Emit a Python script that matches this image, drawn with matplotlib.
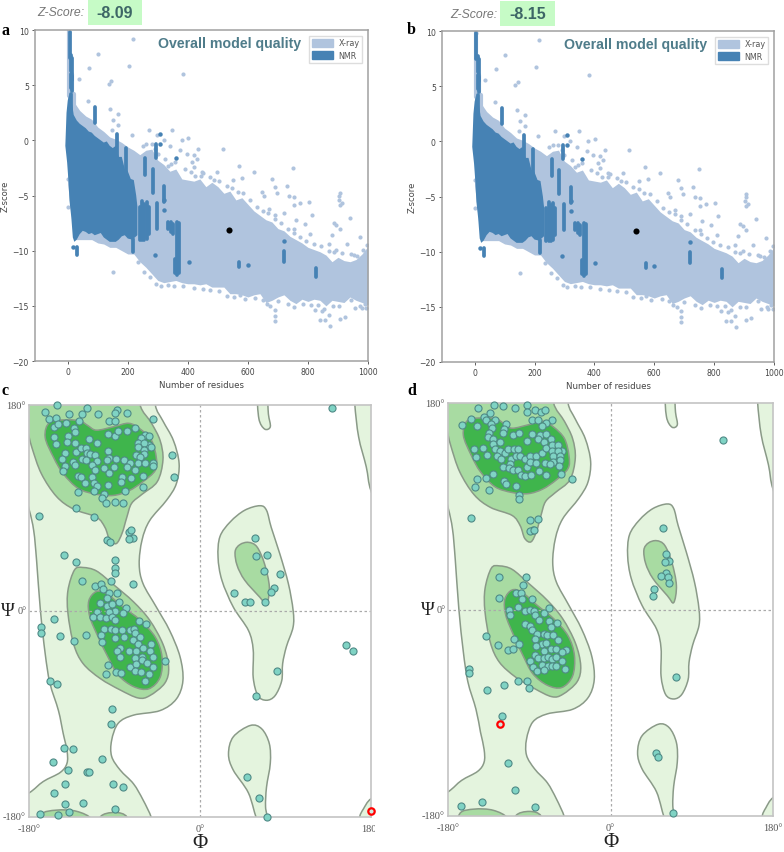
import numpy as np
import matplotlib
matplotlib.use("Agg")
import matplotlib.pyplot as plt
from matplotlib.patches import Patch, PathPatch, Rectangle
from matplotlib.path import Path
from matplotlib.transforms import Bbox

W, H = 784, 853

# z-score plots: cloud outlines
xray_x = [0, 20, 40, 60, 80, 100, 120, 140, 160, 180, 200, 220, 240, 260, 280, 300, 320, 340, 360, 380, 400, 420, 440, 460, 480, 500,
          520, 540, 560, 580, 600, 620, 640, 660, 680, 700, 720, 740, 760, 780, 800, 820, 840, 860, 880, 900, 920, 940, 960, 980, 1000]
xray_top = [4, 3.5, 2.7, 2.2, 1.9, 1.2, 0.8, 0.3, 0.1, -0.2, -0.6, -0.9, -1.3, -0.9, -0.8, -1.8, -2.2, -2.8, -2.6, -3.5, -3.6, -3.7, -3.5, -4.2, -3.8, -4.2,
            -4.8, -4.6, -5.4, -5.2, -5.8, -6.4, -6.8, -7.2, -7.4, -8, -8.2, -8.7, -9, -9.3, -9.7, -9.9, -10.1, -10.4, -11, -10.6, -10.9, -11, -10.8, -10.3, -9.6]
xray_bot = [-4, -9, -9, -9, -9, -9.3, -9.4, -9.7, -9.7, -10, -10.3, -10.3, -11, -11.5, -12.1, -12.7, -12.9, -12.8, -12.7, -12.9, -13, -13, -13.1, -13, -13.3, -13.3,
            -13.3, -13.9, -13.9, -14, -14.2, -14, -13.9, -14.7, -14.5, -14.2, -14, -14.5, -14.8, -14.4, -14.6, -14.4, -14.5, -15, -14.5, -14.6, -14.7, -14.2, -14.5, -14.7, -14.9]

xray_scatter_x = [3, 216, 102, 205, 70, 383, 36, 144, 136, 67, 141, 167, 152, 169, 147, 213, 269, 347, 297, 402, 380, 319, 341, 517, 435, 374, 397, 419, 430, 413, 419,
                  497, 570, 749, 619, 580, 550, 680, 729, 691, 697, 652, 647, 736, 752, 752, 802, 774, 813, 908, 902, 908, 941, 886, 908, 974, 930, 886, 952, 997, 808, 752, 691,
                  152, 2, 2, 691, 691, 691, 874, 908, 924, 841, 858, 824, 847, 869, 663, 958, 980, 991, 574, 905, 912, 895, 880, 870, 760, 790, 720, 670,
                  # bumps along the top of the cloud
                  250, 262, 280, 292, 300, 325, 335, 345, 358, 390, 410, 425, 445, 447, 452, 475, 488, 505, 530, 548, 566, 585, 608, 630, 650, 668, 690, 710, 735, 755,
                  775, 795, 820, 845, 870, 895, 915, 945, 965, 985,
                  # bumps along the bottom of the cloud
                  235, 255, 275, 295, 310, 335, 355, 385, 420, 450, 475, 505, 530, 555, 590, 625, 650, 675, 700, 735, 755, 785, 810, 835, 855, 885, 905, 945, 975, 995]
xray_scatter_z = [9.8, 9.15, 7.8, 6.7, 6.55, 6.0, 5.6, 5.4, 5.1, 3.6, 2.8, 2.4, 1.8, 1.4, 0.9, 0.45, 0.9, 0.9, 0.45, 0.2, 0, 0, -0.5, -0.8, -0.75, -0.9, -1.2, -1.35, -1.66, -2, -2.4,
                  -2.9, -2.3, -2.5, -2.9, -3.4, -3.6, -3.5, -4.1, -4.2, -4.8, -5, -4.7, -5, -5.1, -5.9, -5.6, -5.7, -6.8, -4.8, -5.4, -5.9, -7, -7.5, -8, -8.8, -9.4, -10.1, -10.4, -9.5, -8.5, -8, -6.8,
                  -11.9, -6, -3.5, -15.4, -15.9, -16.4, -16.8, -16.2, -16, -16.3, -16.3, -15.4, -15.5, -15.8, -14.8, -15.2, -15.2, -14.8, -14, -5, -5.7, -7.7, -8.6, -9.4, -7.2, -7.6, -6.6, -6.2,
                  -0.5, -0.3, -0.3, -0.8, -1.2, -1.7, -2.3, -2.1, -2, -2.6, -2.9, -3.2, -3.2, -2.9, -3, -3.3, -3.6, -3.7, -4.1, -4.3, -4.7, -4.8, -5.4, -6, -6.4, -6.6, -7.1, -7.5, -8, -8.4,
                  -8.8, -9.1, -9.4, -9.6, -10, -9.9, -10.2, -10.3, -10.5, -9.9,
                  -11, -11.9, -12.4, -13, -13.2, -13.1, -13.2, -13.2, -13.4, -13.5, -13.6, -13.7, -14.1, -14.2, -14.4, -14.3, -14.5, -15, -14.6, -14.8, -15.1, -14.8, -14.9, -14.9, -15.3, -15, -15, -14.5, -15, -15.2]

# light halo behind the spine near zero residues
halo_x = [3, 15, 20]
halo_low = [4, 3.5, 3]
halo_high = [10, 6, 4.2]

nmr_x = [-8, -6, -4, 0, 5, 15, 20, 30, 40, 50, 60, 70, 80, 90, 100, 110, 120, 130, 140, 150, 160, 170, 180, 190, 200, 210, 220, 228, 232,
         232, 215, 200, 190, 180, 170, 160, 150, 140, 130, 120, 110, 100, 90, 80, 70, 60, 50, 40, 30, 22, 17, 12, 6, 2, -2, -6]
nmr_z = [-0.5, 1, 2.5, 3.6, 4.2, 3.2, 2.3, 1.8, 1.5, 1.3, 1.1, 0.8, 0.7, 0.4, 0.2, 0, -0.2, -0.1, -0.5, -0.7, -0.5, -1.5, -1.5, -2.6, -2.8, -3.5, -3.6, -5, -6,
         -8.6, -9, -8.9, -8.6, -8.7, -9, -9.2, -9.2, -9.2, -9, -8.8, -8.4, -8.5, -8.6, -8.4, -8.5, -8.3, -8.2, -8.5, -9, -9.2, -8.8, -7, -5.5, -3.5, -2, -1]

# NMR streaks: residues, low z, high z
streak_x = [6, 10, 10, 10, 14, 14, 92, 165, 195, 258, 294, 283, 321, 297, 240, 248, 255, 263, 270, 217, 365, 372, 358, 335, 345, 352, 572, 721, 827, 32]
streak_low = [7.5, 6.3, 4.7, 2.5, 5.5, 4.5, 1.6, -2.3, -3.2, -3.1, -1.6, -4.8, -5.6, -8, -9, -9, -9, -8.9, -8.5, -10.1, -12.2, -12, -12, -8, -8.3, -8.5, -11.5, -11, -12.4, -10.4]
streak_high = [9.8, 7.7, 6, 4.2, 7.5, 5.8, 3.0, 0.6, -0.7, -1.6, -0.3, -2.6, -4.1, -5.7, -6, -5.5, -5.8, -5.6, -6, -8.9, -7.4, -7.5, -10.8, -7.4, -7.4, -7.6, -11, -10, -11.6, -9.7]
nmr_dot_x = [600, 721, 403, 291, 360, 308, 308, 19, 321, 321]
nmr_dot_z = [-11.3, -9.1, -11, -10.35, -1.6, 0.6, -0.35, -9.7, -6.3, -5.4]

target_x = 538
score_a = -8.09
score_b = -8.15

# Ramachandran regions in phi/psi; outlines continue past the frame where they are cut off
light_left = [(-47, 180), (-39, 166), (-28, 149), (-22, 129), (-25, 111), (-35, 97), (-53, 79), (-61, 62), (-64, 41), (-60, 24), (-46, 3.5), (-32, -17), (-21, -40), (-18, -61),
              (-25, -77), (-42, -87), (-70, -91), (-86, -98), (-93, -113), (-93, -127), (-84, -139), (-70, -151), (-60, -165), (-51, -181), (-47, -197), (-47, -240), (-240, -240),
              (-240, -185), (-205, -170), (-180, -159), (-165, -149), (-147, -141), (-140, -133), (-140, -122), (-144, -107), (-149, -87), (-158, -63), (-163, -37), (-168, 0.6),
              (-172, 44), (-175, 70), (-180, 89), (-190, 115), (-240, 130), (-240, 240), (-47, 240), (-47, 205)]
medium_top = [(-63, 180), (-51, 164), (-42, 149), (-39, 132), (-45, 113), (-61, 102), (-72, 94), (-77, 82), (-82, 68), (-88, 59), (-95, 62), (-100, 73), (-109, 82), (-133, 89),
              (-151, 100), (-167, 120), (-177, 143), (-183, 161), (-200, 200), (-100, 215), (-63, 205)]
dark_top = [(-158, 165), (-139, 167), (-126, 166), (-118, 162), (-109, 158), (-91, 161), (-75, 164), (-63, 159), (-51, 149), (-46, 134), (-47, 123), (-60, 113), (-75, 105),
            (-91, 101), (-109, 102), (-128, 107), (-144, 120), (-154, 134), (-163, 152)]
medium_alpha = [(-123, 38), (-109, 35), (-91, 23), (-70, 8), (-53, -8), (-39, -29), (-33, -49), (-37, -63), (-53, -74), (-65, -76), (-84, -69), (-105, -59), (-123, -46), (-133, -29),
                (-139, -2), (-139, 18), (-132, 36)]
dark_alpha = [(-109, 17), (-98, 15), (-81, 3.5), (-63, -8), (-47, -23), (-40, -40), (-42, -58), (-54, -68), (-70, -66), (-86, -56), (-97, -40), (-107, -23), (-116, -5), (-117, 9)]
medium_bot1 = [(-167, -178), (-151, -174), (-130, -175), (-114, -182), (-114, -195), (-167, -195)]
medium_bot2 = [(-105, -180), (-90, -176), (-77, -180), (-77, -195), (-105, -195)]
light_right = [(63, 92), (70, 88), (75, 73), (84, 50), (93, 24), (98, 0.6), (98, -14), (91, -31), (87, -46), (86, -61), (79, -74), (70, -78), (61, -74), (56, -58), (56, -34), (51, -17),
               (35, 3.5), (23, 27), (19, 47), (21, 65), (32, 78), (47, 88)]
medium_right = [(51, 60), (60, 56), (68, 41), (73, 21), (70, 6), (63, 12), (47, 27), (39, 40), (37, 52), (42, 58)]
light_low = [(53, -100), (65, -103), (73, -116), (74, -133), (70, -154), (69, -171), (71, -184), (61, -184), (51, -159), (35, -139), (30, -125), (35, -110)]
light_tab = [(61, 190), (62, 168), (68, 159), (74, 161), (72, 172), (70, 190)]
light_edge_top = [(163, 195), (163, 180), (167, 152), (175, 126), (180, 105), (195, 80), (215, 200)]
light_edge_bot = [(180, -164), (172, -173), (168, -180), (165, -195), (200, -195), (200, -155)]

phi_c = [-163, -151, -159, -152, -138, -119, -124, -127, -107, -87, -90, -77, -96, -89, -49, -154, -149, -141, -133, -132, -139, -154, -152, -140, -132, -117, -108, -97, -90, -86,
         -77, -68, -58, -54, -62, -65, -54, -59, -65, -59, -52, -59, -67, -63, -142, -145, -130, -125, -120, -119, -116, -111, -124, -120, -134, -142, -132, -144, -108, -114,
         -110, -97, -96, -98, -88, -101, -91, -80, -74, -77, -65, -58, -50, -50, -68, -60, -73, -82, -83, -96, -97, -114, -128, -125, -121, -112, -108, -112, -128, -101, -103,
         -79, -60, -99, -89, -81, -29, -27, -131, -169, -112,
         -98, -95, -75, -73, -71, -75, -143, -130, -89, -89, -90, -94, -71, -124, -111, -104,
         -102, -96, -87, -98, -105, -98, -93, -85, -78, -90, -81, -108, -96, -113, -105, -99, -93, -89, -64, -57, -101, -94, -89, -82, -74, -70, -68, -104, -103, -89, -80, -71, -63,
         -65, -60, -52, -53, -84, -87, -75, -84, -67, -61, -49, -68, -74, -67, -61, -56, -50, -37, -68, -62, -54, -58, -97, -99, -88, -83, -120, -133,
         -154, -167, -167, -147, -158, -151, -93, -94, -143, -134, -155, -103, -139, -119, -117, -142, -92, -81, -154, -142, -123, -90, -168, -149, -138,
         139, 58, 59, 70, 67, 84, 78, 75, 36, 47, 53, 68, 154, 161, 81, 59, 49, 62, 71]
psi_c = [174, 180, 168, 169, 172, 177, 172, 166, 172, 176, 173, 173, 166, 166, 168, 161, 163, 164, 160, 156, 153, 152, 146, 148, 147, 150, 147, 155, 153, 157,
         157, 160, 154, 153, 151, 147, 145, 147, 143, 141, 143, 137, 136, 135, 138, 133, 139, 142, 142, 138, 137, 136, 133, 132, 130, 127, 128, 122, 131, 128,
         123, 140, 134, 132, 133, 125, 126, 132, 129, 126, 129, 129, 129, 127, 123, 118, 116, 117, 113, 121, 110, 117, 118, 117, 112, 112, 109, 105, 104, 102, 99,
         105, 108, 94, 95, 94, 136, 117, 90, 83, 82,
         62, 60, 69, 71, 64, 63, 49, 43, 45, 38, 33, 26, 24, 26, 22, 24,
         19, 16, 16, 11, 7, 4, 6, 8, 3, 0, -2, -1, -1, -5, -5, -6, -5, -8, -9, -11, -16, -16, -17, -17, -17, -16, -19, -21, -27, -24, -23, -25, -23,
         -29, -32, -29, -35, -32, -35, -35, -40, -35, -40, -40, -41, -49, -46, -43, -45, -49, -44, -52, -53, -55, -61, -47, -55, -53, -54, -21, -26,
         -7, -14, -19, -22, -61, -64, -86, -99, -120, -121, -132, -129, -139, -141, -141, -151, -151, -154, -159, -169, -168, -173, -177, -178, -176,
         177, 64, 48, 49, 35, 32, 20, 17, 16, 8, 8, 8, -30, -35, -52, -74, -145, -163, -180]
phi_d = [-147, -129, -119, -106, -92, -93, -84, -77, -73, -133, -154, -164, -140, -138, -128, -132, -148, -131, -116, -118, -119, -108, -101, -135, -136, -130,
         -87, -80, -65, -71, -76, -87, -78, -71, -66, -80, -93, -74, -130, -122, -141, -151, -149, -137, -128, -122, -126, -121, -117, -113, -107, -102, -110, -105, -100, -95,
         -111, -119, -112, -108, -103, -93, -99, -95, -88, -89, -83, -89, -83, -79, -73, -76, -71, -65, -58, -54, -65, -58, -64, -56, -64, -56, -67, -57, -71, -55, -43,
         -130, -138, -148, -150, -118, -116, -105, -135, -101, -101, -154, -89, -80, -86, -89, -85,
         -124, -94, -97, -124, -105, -99, -98, -87, -103, -112, -111, -95, -89, -85, -84, -79, -74, -68, -68, -59, -95, -89, -87, -81, -74, -66, -70, -64, -84, -58, -76, -83,
         -71, -66, -74, -60, -49, -54, -89, -84, -80, -74, -69, -65, -60, -54, -76, -69, -86, -81, -74, -65, -60, -50, -138, -125, -114, -108, -107, -101,
         -157, -157, -137, -118, -102, -93, -90, -120, -113, -106, -142, -166, -84,
         125, 58, 62, 65, 60, 62, 56, 64, 65, 48, 47, 73, 50, 53, 69]
psi_d = [176, 178, 177, 176, 178, 172, 174, 172, 174, 171, 166, 161, 168, 165, 165, 162, 160, 158, 162, 157, 154, 152, 154, 154, 150, 149,
         165, 165, 165, 163, 160, 153, 152, 153, 149, 149, 147, 146, 144, 146, 141, 140, 133, 135, 140, 138, 134, 131, 136, 140, 140, 140, 131, 134, 134, 131,
         127, 124, 123, 122, 122, 124, 117, 116, 117, 134, 134, 129, 128, 121, 128, 136, 141, 143, 143, 138, 138, 138, 134, 134, 129, 130, 127, 125, 117, 118, 114,
         118, 115, 114, 107, 112, 109, 108, 104, 100, 96, 80, 78, 79, 69, 68, 69,
         28, 28, 21, 10, 14, 14, 9, 9, 2, 0, -5, -1, 0, -1, -5, -9, -3, 1, -10, -12, -13, -14, -18, -21, -21, -15, -22, -22, -26, -27, -30, -32,
         -29, -34, -36, -34, -35, -37, -45, -40, -42, -42, -41, -43, -41, -45, -48, -49, -50, -54, -53, -49, -49, -52, -23, -31, -35, -34, -26, -30,
         -52, -55, -70, -66, -62, -62, -68, -93, -134, -157, -168, -171, -172,
         148, 71, 48, 42, 41, 32, 29, 28, 23, 18, 12, -59, -125, -129, -177]
outlier_c = (180, -175)
outlier_d = (-122, -100)

fig = plt.figure(figsize=(W / 100, H / 100), dpi=100)
plt.rcParams["font.family"] = ["Liberation Sans", "DejaVu Sans"]


def px_axes(left, top, right, bottom):
    return fig.add_axes([left / W, 1 - bottom / H, (right - left) / W, (bottom - top) / H])


def px_text(x, y, s, **kw):
    return fig.text(x / W, 1 - y / H, s, **kw)


def outline(points):
    # closed smooth outline through the read points, as bezier segments
    p = np.array(points, dtype=float)
    n = len(p)
    verts = [p[0]]
    codes = [Path.MOVETO]
    for i in range(n):
        p0, p1, p2, p3 = p[i - 1], p[i], p[(i + 1) % n], p[(i + 2) % n]
        verts += [p1 + (p2 - p0) / 6, p2 - (p3 - p1) / 6, p2]
        codes += [Path.CURVE4] * 3
    return Path(verts, codes)


def zscore_panel(box, score):
    ax = px_axes(*box)
    ax.fill_between(xray_x, xray_bot, xray_top, color="#b0c4de", lw=0, zorder=1)
    ax.vlines(halo_x, halo_low, halo_high, color="#b0c4de", lw=3, capstyle="round", zorder=1)
    ax.plot(xray_scatter_x, xray_scatter_z, "o", color="#b0c4de", ms=3, mew=0, zorder=1)
    ax.fill(nmr_x, nmr_z, color="#4682b4", lw=0, zorder=2)
    ax.vlines(streak_x, streak_low, streak_high, color="#4682b4", lw=2.7, capstyle="round", zorder=2)
    ax.plot(nmr_dot_x, nmr_dot_z, "o", color="#4682b4", ms=3.2, mew=0, zorder=2)
    ax.plot([target_x], [score], "o", color="black", ms=4.4, mew=0, zorder=3)
    ax.set_xlim(-109, 1000)
    ax.set_ylim(-20, 10)
    ax.set_xticks(range(0, 1001, 200))
    ax.set_yticks(range(-20, 11, 5))
    ax.tick_params(labelsize=5.6, colors="#444444", length=2.5, width=0.6, pad=2)
    for lab in ax.get_xticklabels() + ax.get_yticklabels():
        lab.set_family("DejaVu Sans")
    ax.set_xlabel("Number of residues", fontsize=6.2, color="#444444", labelpad=3, family="DejaVu Sans")
    ax.set_ylabel("Z-score", fontsize=6, color="#444444", labelpad=2, family="DejaVu Sans")
    for s in ax.spines.values():
        s.set_color("#a0a0a0")
        s.set_linewidth(1.1)
    ax.text(0.583, 0.961, "Overall model quality", transform=ax.transAxes, ha="center", va="center",
            fontsize=10.2, fontweight="bold", color="#4f7c8a")
    ax.legend(handles=[Patch(color="#b0c4de", label="X-ray"), Patch(color="#4682b4", label="NMR")],
              loc="upper right", frameon=True, borderaxespad=0.7, handlelength=2.6, handleheight=1.1,
              labelcolor="#555555", edgecolor="#dddddd", framealpha=1, fancybox=False, labelspacing=0.45,
              handletextpad=0.7, borderpad=0.35, prop={"family": "DejaVu Sans", "size": 5.8})
    return ax


def rama_panel(box, phi, psi, outlier, psi_label_x, phi_label_y):
    ax = px_axes(*box)
    light, medium, dark = "#e4f4de", "#a8dba2", "#3fb54c"
    for pts, col in [(light_left, light), (light_right, light), (light_low, light), (light_tab, light), (light_edge_top, light), (light_edge_bot, light),
                     (medium_top, medium), (medium_alpha, medium), (medium_right, medium), (medium_bot1, medium), (medium_bot2, medium),
                     (dark_top, dark), (dark_alpha, dark)]:
        ax.add_patch(PathPatch(outline(pts), fc=col, ec="#8a9a88", lw=1.1, zorder=1))
    ax.axhline(0, color="#aaaaaa", lw=0.9, ls=(0, (2, 2)), zorder=2)
    ax.axvline(0, color="#aaaaaa", lw=0.9, ls=(0, (2, 2)), zorder=2)
    ax.plot(phi, psi, "o", mfc="#7fd3c4", mec="#4f8a86", mew=0.8, ms=5.1, zorder=3, clip_on=False)
    ax.plot([outlier[0]], [outlier[1]], "o", mfc="#cfe8df", mec="#ff0000", mew=1.6, ms=4.6, zorder=4, clip_on=False)
    ax.set_xlim(-180, 180)
    ax.set_ylim(-180, 180)
    ax.set_xticks([])
    ax.set_yticks([])
    for s in ax.spines.values():
        s.set_color("#c4c4c4")
        s.set_linewidth(1.2)
    serif = dict(family="Liberation Serif", color="#555555", fontsize=7.5)
    left, top, right, bottom = box
    mid_x = (left + right) / 2
    mid_y = (top + bottom) / 2
    px_text(left - 3, top + 1, "180°", ha="right", va="center", **serif)
    px_text(left - 3, bottom, "-180°", ha="right", va="center", **serif)
    px_text(left - 2, mid_y, "0°", ha="right", va="center", **serif)
    px_text(left, bottom + 12, "-180°", ha="center", va="center", **serif)
    px_text(mid_x, bottom + 12, "0°", ha="center", va="center", **serif)
    t = px_text(right, bottom + 12, "180°", ha="center", va="center", **serif)
    t.set_clip_on(True)
    t.set_clip_box(Bbox([[0, 0], [375 if right < 400 else W, H]]))
    px_text(psi_label_x, mid_y, "Ψ", ha="center", va="center", family="Liberation Serif", fontsize=13.5, color="#222222")
    px_text(mid_x, phi_label_y, "Φ", ha="center", va="center", family="Liberation Serif", fontsize=15, color="#222222")
    return ax


def score_header(label_right, box_left, box_right, box_top, box_bottom, score):
    fig.add_artist(Rectangle((box_left / W, 1 - box_bottom / H), (box_right - box_left) / W, (box_bottom - box_top) / H,
                             transform=fig.transFigure, fc="#c6fbc6", ec="none"))
    px_text(label_right, (box_top + box_bottom) / 2, "Z-Score:", ha="right", va="center", fontsize=8.8, style="italic", color="#777777")
    px_text((box_left + box_right) / 2, (box_top + box_bottom) / 2, f"{score:.2f}", ha="center", va="center",
            fontsize=11.5, fontweight="bold", color="#3d6666")


zscore_panel((35, 31, 368, 362), score_a)
zscore_panel((442, 32, 774, 363), score_b)
rama_panel((29, 406, 371, 818), phi_c, psi_c, outlier_c, 8, 844)
rama_panel((448, 404, 773, 817), phi_d, psi_d, outlier_d, 428, 843)

score_header(84, 88, 142, 0, 26, score_a)
score_header(497, 500, 555, 2, 27, score_b)

panel_font = dict(family="Liberation Serif", fontweight="bold", fontsize=11.5, color="black", ha="left", va="center")
px_text(1, 31, "a", **panel_font)
px_text(407, 30, "b", **panel_font)
px_text(1, 391, "c", **panel_font)
px_text(407, 391, "d", **panel_font)

fig.savefig("out.png", dpi=100)
